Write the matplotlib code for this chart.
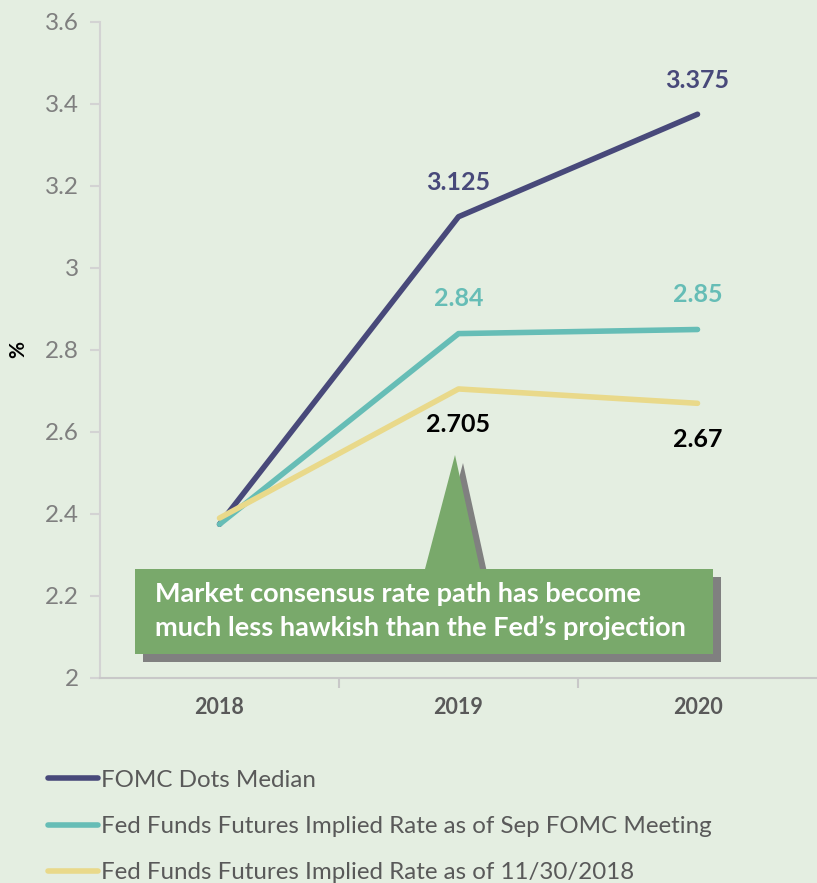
import matplotlib
matplotlib.use("Agg")
import matplotlib.pyplot as plt
from matplotlib.patches import Polygon
from matplotlib.lines import Line2D

plt.rcParams['font.family'] = ['Lato', 'DejaVu Sans']

years = ["2018", "2019", "2020"]
fomc = [2.375, 3.125, 3.375]
ff_sep = [2.375, 2.84, 2.85]
ff_nov = [2.39, 2.705, 2.67]
fomc_labels = ["", "3.125", "3.375"]
sep_labels = ["", "2.84", "2.85"]
nov_labels = ["", "2.705", "2.67"]
series_names = ["FOMC Dots Median",
                "Fed Funds Futures Implied Rate as of Sep FOMC Meeting",
                "Fed Funds Futures Implied Rate as of 11/30/2018"]
yticks = [2, 2.2, 2.4, 2.6, 2.8, 3, 3.2, 3.4, 3.6]
ytick_labels = ["2", "2.2", "2.4", "2.6", "2.8", "3", "3.2", "3.4", "3.6"]
callout_text = "Market consensus rate path has become\nmuch less hawkish than the Fed\u2019s projection"

BG = "#E4EEE1"
NAVY = "#48497A"
TEAL = "#66BDB6"
YELLOW = "#E9D98A"
GREEN = "#79A96B"
SHADOW = "#808080"

W, H = 817, 883
fig = plt.figure(figsize=(W / 100, H / 100), dpi=100, facecolor=BG)

def fx(px):
    return px / W

def fy(py):
    return 1 - py / H

ax = fig.add_axes([fx(100), fy(678), fx(817) - fx(100), fy(22) - fy(678)])
ax.set_facecolor(BG)
x = list(range(len(years)))
ax.plot(x, fomc, color=NAVY, lw=4, solid_capstyle='round', zorder=3)
ax.plot(x, ff_sep, color=TEAL, lw=4, solid_capstyle='round', zorder=3)
ax.plot(x, ff_nov, color=YELLOW, lw=4, solid_capstyle='round', zorder=4)

ax.set_xlim(-0.5, 2.5)
ax.set_ylim(2, 3.6)
ax.set_yticks(yticks)
ax.set_yticklabels(ytick_labels)
ax.set_xticks(x)
ax.set_xticklabels(years, fontweight='bold')
ax.set_xticks([0.5, 1.5], minor=True)

for s in ['top', 'right']:
    ax.spines[s].set_visible(False)
ax.spines['left'].set_color("#D3D3D3")
ax.spines['bottom'].set_color("#C8C8C8")
ax.spines['left'].set_linewidth(1.5)
ax.spines['bottom'].set_linewidth(1.5)
ax.tick_params(axis='y', colors="#D3D3D3", labelcolor="#7F7F7F", labelsize=17.5,
               length=7, width=1.5, pad=8)
ax.tick_params(axis='x', which='major', length=0, labelcolor="#595959", labelsize=15.5, pad=14)
ax.tick_params(axis='x', which='minor', length=7, width=1.5, colors="#C8C8C8")
fig.text(fx(18), fy(350), "%", rotation=90, ha='center', va='center',
         fontweight='bold', fontsize=15, color='black')

def label(xi, yi, text, color, dy):
    if text:
        ax.annotate(text, (xi, yi), xytext=(0, dy), textcoords='offset pixels',
                    ha='center', va='center', fontsize=18, fontweight='bold', color=color)

for i in x:
    label(i, fomc[i], fomc_labels[i], NAVY, 34)
    label(i, ff_sep[i], sep_labels[i], TEAL, 35)
    label(i, ff_nov[i], nov_labels[i], "black", -36)

# callout (figure pixel coordinates)
def poly(pts, color, z):
    p = Polygon([(fx(a), fy(b)) for a, b in pts], closed=True, transform=fig.transFigure,
                facecolor=color, edgecolor='none', zorder=z)
    fig.patches.append(p)

off = 8
tri = [(425, 569), (455, 455), (480, 569)]
box = [(135, 569), (713, 569), (713, 654), (135, 654)]
poly([(a + off, b + off) for a, b in tri], SHADOW, 5)
poly([(a + off, b + off) for a, b in box], SHADOW, 5)
poly(tri, GREEN, 6)
poly(box, GREEN, 6)
fig.text(fx(155), fy(611), callout_text, ha='left', va='center', color='white',
         fontsize=19.5, fontweight='bold', linespacing=1.42, zorder=7)

handles = [Line2D([], [], color=c, lw=4, solid_capstyle='round') for c in (NAVY, TEAL, YELLOW)]
fig.legend(handles, series_names, loc='upper left', bbox_to_anchor=(fx(38), fy(760)),
           frameon=False, fontsize=17.4, labelcolor="#595959", handlelength=2.1,
           handletextpad=0.1, labelspacing=1.05, borderaxespad=0)

fig.savefig("out.png", dpi=100, facecolor=BG)
